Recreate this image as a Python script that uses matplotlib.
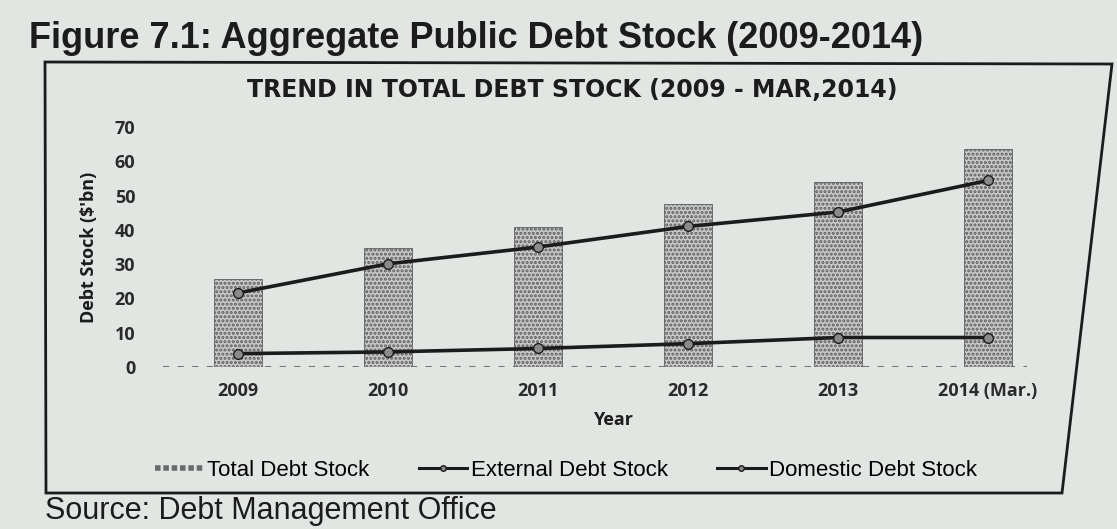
import matplotlib
matplotlib.use("Agg")
import matplotlib.pyplot as plt
from matplotlib.lines import Line2D
from matplotlib.patches import Polygon

years = ["2009", "2010", "2011", "2012", "2013", "2014 (Mar.)"]
total_debt = [25.7, 34.8, 40.7, 47.6, 53.9, 63.6]
external_debt = [3.9, 4.4, 5.4, 6.8, 8.6, 8.6]
domestic_debt = [21.6, 30.1, 35.0, 41.0, 45.2, 54.4]

W, H = 1117, 529
page = "#e2e6e2"
ink = "#1c1c1c"

fig = plt.figure(figsize=(W / 100, H / 100), dpi=100, facecolor=page)

def px(x, y):
    # pixel position (top-left origin) -> figure fraction
    return x / W, 1 - y / H

# outer frame of the chart (slightly skewed like the scan)
frame = Polygon([px(45, 62), px(1112, 64), px(1062, 493), px(46, 493)],
                closed=True, fill=False, edgecolor=ink, linewidth=2,
                transform=fig.transFigure)
fig.patches.append(frame)

fig.text(*px(29, 38), "Figure 7.1: Aggregate Public Debt Stock (2009-2014)",
         family="Liberation Sans", fontweight="bold", fontsize=26,
         color=ink, ha="left", va="center")
fig.text(*px(572, 90), "TREND IN TOTAL DEBT STOCK (2009 - MAR,2014)",
         family="DejaVu Sans", fontweight="bold", fontsize=17,
         color=ink, ha="center", va="center")
fig.text(*px(45, 511), "Source: Debt Management Office",
         family="Liberation Sans", fontsize=22, color=ink,
         ha="left", va="center")

ax = fig.add_axes([163 / W, 1 - 367 / H, 900 / W, 240 / H])
ax.set_facecolor("none")
x = list(range(len(years)))

plt.rcParams["hatch.linewidth"] = 1.5
ax.bar(x, total_debt, width=0.32, color="#c6c9c6", hatch="....",
       edgecolor="#5e5e5e", linewidth=0.6, zorder=2)
ax.plot(x, domestic_debt, color=ink, linewidth=2.6, marker="o",
        markersize=7, markerfacecolor="#8a8a8a", markeredgecolor=ink, zorder=3)
ax.plot(x, external_debt, color=ink, linewidth=2.6, marker="o",
        markersize=7, markerfacecolor="#8a8a8a", markeredgecolor=ink, zorder=3)
ax.axhline(0, xmin=0.0, xmax=0.96, color="#777777", linewidth=1.5,
           linestyle=(0, (3, 4)), zorder=1)

ax.set_xlim(-0.5, 5.5)
ax.set_ylim(0, 70)
ax.set_yticks(range(0, 71, 10))
ax.set_xticks(x)
ax.set_xticklabels(years)
for s in ax.spines.values():
    s.set_visible(False)
ax.tick_params(length=0)
ax.tick_params(axis="x", pad=11)
ax.tick_params(axis="y", pad=20)
for lab in ax.get_xticklabels() + ax.get_yticklabels():
    lab.set_family("Open Sans")
    lab.set_fontweight("bold")
    lab.set_fontsize(13)
    lab.set_color("#2a2a2a")

ax.set_xlabel("Year", family="Open Sans", fontweight="bold", fontsize=13,
              color=ink, labelpad=8)
ax.set_ylabel("Debt Stock ($'bn)", family="Open Sans", fontweight="bold",
              fontsize=13, color=ink, labelpad=12)

handles = [
    Line2D([], [], color="#6a6a6a", linewidth=4, linestyle=(0, (1, 0.5))),
    Line2D([], [], color=ink, linewidth=2.2, marker="o", markersize=4,
           markerfacecolor="#8a8a8a", markeredgecolor=ink),
    Line2D([], [], color=ink, linewidth=2.2, marker="o", markersize=4,
           markerfacecolor="#8a8a8a", markeredgecolor=ink),
]
labels = ["Total Debt Stock", "External Debt Stock", "Domestic Debt Stock"]
fig.legend(handles, labels, loc="center", bbox_to_anchor=px(566, 470),
           ncol=3, frameon=False, handlelength=2.2, handletextpad=0.15,
           columnspacing=2.2, prop={"family": "Liberation Sans", "size": 16})

fig.savefig("out.png", dpi=100, facecolor=page)
